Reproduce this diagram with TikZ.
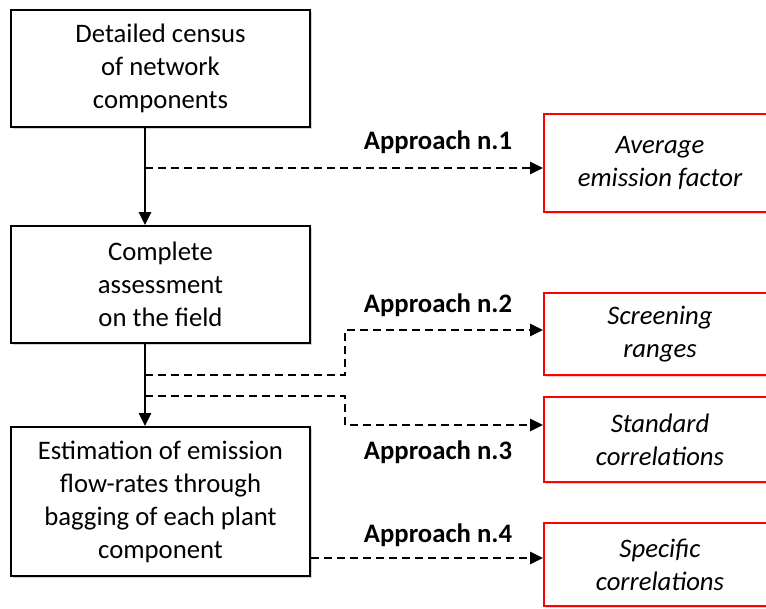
\documentclass[tikz,border=0pt]{standalone}
\usepackage{fontspec}
\setmainfont{Carlito}
\usetikzlibrary{positioning, arrows.meta, shadows}

\newcommand{\stagefont}{\fontsize{26.7}{33}\selectfont}

\tikzset{
    stage/.style={draw=black, line width=1.8pt, fill=white, align=center,
        inner sep=0pt, minimum width=299pt, font=\stagefont,
        drop shadow={shadow xshift=1.5pt, shadow yshift=-1.5pt, opacity=0.35}},
    result/.style={draw=red, line width=1.8pt, fill=white, align=center,
        inner sep=0pt, minimum width=232pt, font=\stagefont\itshape,
        drop shadow={shadow xshift=1.5pt, shadow yshift=-1.5pt, color=red, opacity=0.2}},
    approach/.style={font=\stagefont\bfseries},
    flow/.style={line width=2.4pt, -{Triangle[length=13pt, width=12pt]}},
    option/.style={line width=2.4pt, dash pattern=on 8pt off 5pt, -{Triangle[length=13pt, width=12pt]}}
}

\begin{document}
\begin{tikzpicture}[x=1pt, y=-1pt]
    \useasboundingbox (0,0) rectangle (766,608);

    % left column
    \node[stage, minimum height=117pt] (census) at (160.5,68.5)
        {Detailed census\\of network\\components};
    \node[stage, minimum height=117pt] (field) at (160.5,284.5)
        {Complete\\assessment\\on the field};
    \node[stage, minimum height=149pt] (bagging) at (160.5,501.5)
        {Estimation of emission\\flow-rates through\\bagging of each plant\\component};

    % right column
    \node[result, minimum height=98pt] (avg) at (660,163) {Average\\emission factor};
    \node[result, minimum height=82pt] (screen) at (660,334) {Screening\\ranges};
    \node[result, minimum height=85pt] (std) at (660,439.5) {Standard\\correlations};
    \node[result, minimum height=83pt] (spec) at (660,564.5) {Specific\\correlations};

    % labels
    \node[approach] (lab1) at (438,142) {Approach n.1};
    \node[approach] (lab2) at (438,305) {Approach n.2};
    \node[approach] (lab3) at (438,452) {Approach n.3};
    \node[approach] (lab4) at (438,535) {Approach n.4};

    \coordinate (spine) at (145,0);
    \coordinate (elbow) at (345,0);
    \coordinate (tap1) at (145,168);
    \coordinate (tap2) at (145,375);
    \coordinate (tap3) at (145,396);
    \coordinate (in2) at (544,330);
    \coordinate (in3) at (544,425);
    \coordinate (in4) at (544,558);

    % connectors
    \draw[flow] (census.south -| spine) -- (field.north -| spine);
    \draw[flow] (field.south -| spine) -- (bagging.north -| spine);
    \draw[option] (tap1) -- (tap1 -| avg.west);
    \draw[option] (tap2) -- (tap2 -| elbow) |- (in2 -| screen.west);
    \draw[option] (tap3) -- (tap3 -| elbow) |- (in3 -| std.west);
    \draw[option] (bagging.east |- in4) -- (in4 -| spec.west);
\end{tikzpicture}
\end{document}
